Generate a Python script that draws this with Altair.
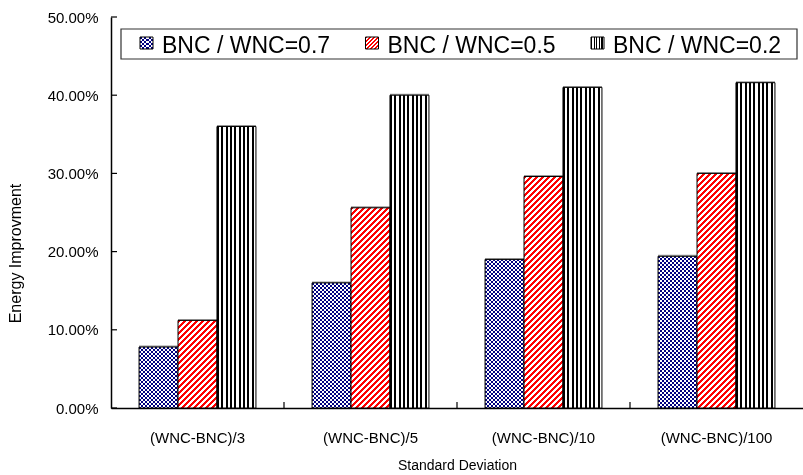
import altair as alt
import pandas as pd

# ---- data -------------------------------------------------------------
categories = ["(WNC-BNC)/3", "(WNC-BNC)/5", "(WNC-BNC)/10", "(WNC-BNC)/100"]
series = ["BNC / WNC=0.7", "BNC / WNC=0.5", "BNC / WNC=0.2"]
ratio_07 = [7.8, 16.0, 19.0, 19.4]   # energy improvement, %
ratio_05 = [11.2, 25.6, 29.6, 30.0]
ratio_02 = [36.0, 40.0, 41.0, 41.6]
y_ticks = [0.0, 0.1, 0.2, 0.3, 0.4, 0.5]

rows = []
for s, vals in zip(series, [ratio_07, ratio_05, ratio_02]):
    for c, v in zip(categories, vals):
        rows.append({"category": c, "series": s, "value": v / 100})
df = pd.DataFrame(rows)

# ---- layout / style ---------------------------------------------------
FONT = "Liberation Sans"
PLOT_W, PLOT_H = 692, 391
Y_MAX = 0.5
GROUP_PAD = 0.72                      # outer padding per group, in bar widths
BAR_W = PLOT_W / len(categories) / (len(series) + 2 * GROUP_PAD)
NAVY, RED = "#000080", "#FF0000"
CELL = 4.0                            # checker cell size, px
DIAG_PERIOD = 6.0                     # horizontal period of the hatching, px
N_VSTRIPES = 9                        # vertical lines per bar


def stripe_stops(c1, c2, period, duty=0.5, end=1.0):
    stops, t = [], 0.0
    while t < end - 1e-9:
        mid = min(t + period * duty, 1.0)
        nxt = min(t + period, 1.0)
        stops += [(t, c1), (mid, c1), (mid, c2), (nxt, c2)]
        t += period
    return [alt.GradientStop(offset=round(o, 5), color=c) for o, c in stops]


def vstripes(c1, c2, n):
    return alt.LinearGradient(gradient="linear", x1=0, y1=0, x2=1, y2=0,
                              stops=stripe_stops(c1, c2, 1.0 / n))


def hstripes(c1, c2, h, cell):
    return alt.LinearGradient(gradient="linear", x1=0, y1=0, x2=0, y2=1,
                              stops=stripe_stops(c1, c2, cell / h))


def diag(c1, c2, w, h, period):
    # "/" hatching: gradient axis runs along the pixel diagonal of the box
    dt = period * w / (w * w + h * h)
    end = min(1.0, (w + h) * w / (w * w + h * h) + dt)
    return alt.LinearGradient(gradient="linear", x1=0, y1=0, x2=1, y2=h / w,
                              stops=stripe_stops(c1, c2, dt, end=end))


x_scale = alt.Scale(domain=categories, paddingInner=0, paddingOuter=0)
x_axis = alt.Axis(title="Standard Deviation", labelAngle=0, ticks=False,
                  labelPadding=22, titlePadding=13)
x_enc = alt.X("category:N", sort=categories, scale=x_scale, axis=x_axis)
xo_enc = alt.XOffset(
    "series:N", sort=series,
    scale=alt.Scale(domain=series, paddingInner=0, paddingOuter=GROUP_PAD),
)
y_enc = alt.Y(
    "value:Q", scale=alt.Scale(domain=[0, Y_MAX], nice=False, zero=True),
    axis=alt.Axis(title="Energy Improvment", format=".2%", values=y_ticks,
                  ticks=False, grid=False, labelPadding=13, titlePadding=24,
                  titleY=236, titleFontSize=16),
)

base = alt.Chart(df).encode(x=x_enc, xOffset=xo_enc, y=y_enc)
layers = []

# thin grey drop shadow behind every bar (top and right edges)
layers.append(base.mark_bar(color="#9a9a9a", xOffset=1.5, yOffset=-1.5))

# checkerboard bars: row stripes XOR column stripes, then tinted navy
blue = base.transform_filter(alt.datum.series == series[0])
for c, v in zip(categories, ratio_07):
    h = v / 100 / Y_MAX * PLOT_H
    layers.append(blue.transform_filter(alt.datum.category == c)
                  .mark_bar(fill=hstripes("white", "black", h, CELL)))
layers.append(blue.mark_bar(fill=vstripes("white", "black", BAR_W / CELL),
                            blend="difference"))
layers.append(blue.mark_bar(fill=NAVY, blend="lighten"))
layers.append(blue.mark_bar(filled=False, color="black", strokeWidth=1))

# red diagonal hatching
red = base.transform_filter(alt.datum.series == series[1])
for c, v in zip(categories, ratio_05):
    h = v / 100 / Y_MAX * PLOT_H
    layers.append(red.transform_filter(alt.datum.category == c)
                  .mark_bar(fill=diag(RED, "white", BAR_W, h, DIAG_PERIOD),
                            stroke="black", strokeWidth=1))

# black vertical stripes
black = base.transform_filter(alt.datum.series == series[2])
layers.append(black.mark_bar(fill=vstripes("black", "white", N_VSTRIPES),
                             stroke="black", strokeWidth=1))

# inward tick marks on both axes
layers.append(alt.Chart(pd.DataFrame({"value": y_ticks})).mark_rule(
    color="black", strokeWidth=1.2).encode(
    y=y_enc, x=alt.value(0), x2=alt.value(6)))
layers.append(alt.Chart(pd.DataFrame({"category": categories[1:]})).mark_rule(
    color="black", strokeWidth=1.2).encode(
    x=alt.X("category:N", sort=categories, bandPosition=0,
            scale=x_scale, axis=x_axis),
    y=alt.value(PLOT_H - 6), y2=alt.value(PLOT_H)))

# ---- legend -----------------------------------------------------------
LEG_X0, LEG_X1, LEG_Y0, LEG_Y1 = 10, 686, 12, 42
LEG_STEP, LEG_SW_X, SW, LEG_FONT = 225.5, 29, 13, 23
one = alt.Chart(pd.DataFrame({"label": [""]}))
layers.append(one.mark_rect(fill="white", stroke="#333333", strokeWidth=1.2).encode(
    x=alt.value(LEG_X0), x2=alt.value(LEG_X1),
    y=alt.value(LEG_Y0), y2=alt.value(LEG_Y1)))

sw_y0 = 20
for i, s in enumerate(series):
    sx = LEG_SW_X + i * LEG_STEP
    pos = dict(x=alt.value(sx), x2=alt.value(sx + SW),
               y=alt.value(sw_y0), y2=alt.value(sw_y0 + SW - 1))
    if i == 0:
        layers.append(one.mark_rect(fill=hstripes("white", "black", SW - 1, (SW - 1) / 3)).encode(**pos))
        layers.append(one.mark_rect(fill=vstripes("white", "black", 3),
                                    blend="difference").encode(**pos))
        layers.append(one.mark_rect(fill=NAVY, blend="lighten").encode(**pos))
        layers.append(one.mark_rect(filled=False, color="black", strokeWidth=1).encode(**pos))
    elif i == 1:
        layers.append(one.mark_rect(fill=diag(RED, "white", SW, SW - 1, 4.0),
                                    stroke="black", strokeWidth=1).encode(**pos))
    else:
        layers.append(one.mark_rect(fill=vstripes("black", "white", 5),
                                    stroke="black", strokeWidth=1).encode(**pos))
    layers.append(alt.Chart(pd.DataFrame({"label": [s]})).mark_text(
        align="left", baseline="alphabetic", font=FONT, fontSize=LEG_FONT,
        color="black").encode(
        x=alt.value(sx + 22), y=alt.value(36),
        text="label:N"))

chart = alt.layer(*layers).properties(
    width=PLOT_W, height=PLOT_H,
    padding={"left": 111, "top": 17, "right": 0, "bottom": 67},
    autosize=alt.AutoSizeParams(type="none"),
    background="white",
).configure_view(stroke=None).configure_axis(
    labelFont=FONT, labelFontSize=15, labelColor="black",
    titleFont=FONT, titleFontSize=15, titleFontWeight="normal", titleColor="black",
    domainColor="black", domainWidth=1.5,
).configure_axisX(titleFontSize=14)

chart.save("out.html", embed_options={"renderer": "svg", "actions": False})
